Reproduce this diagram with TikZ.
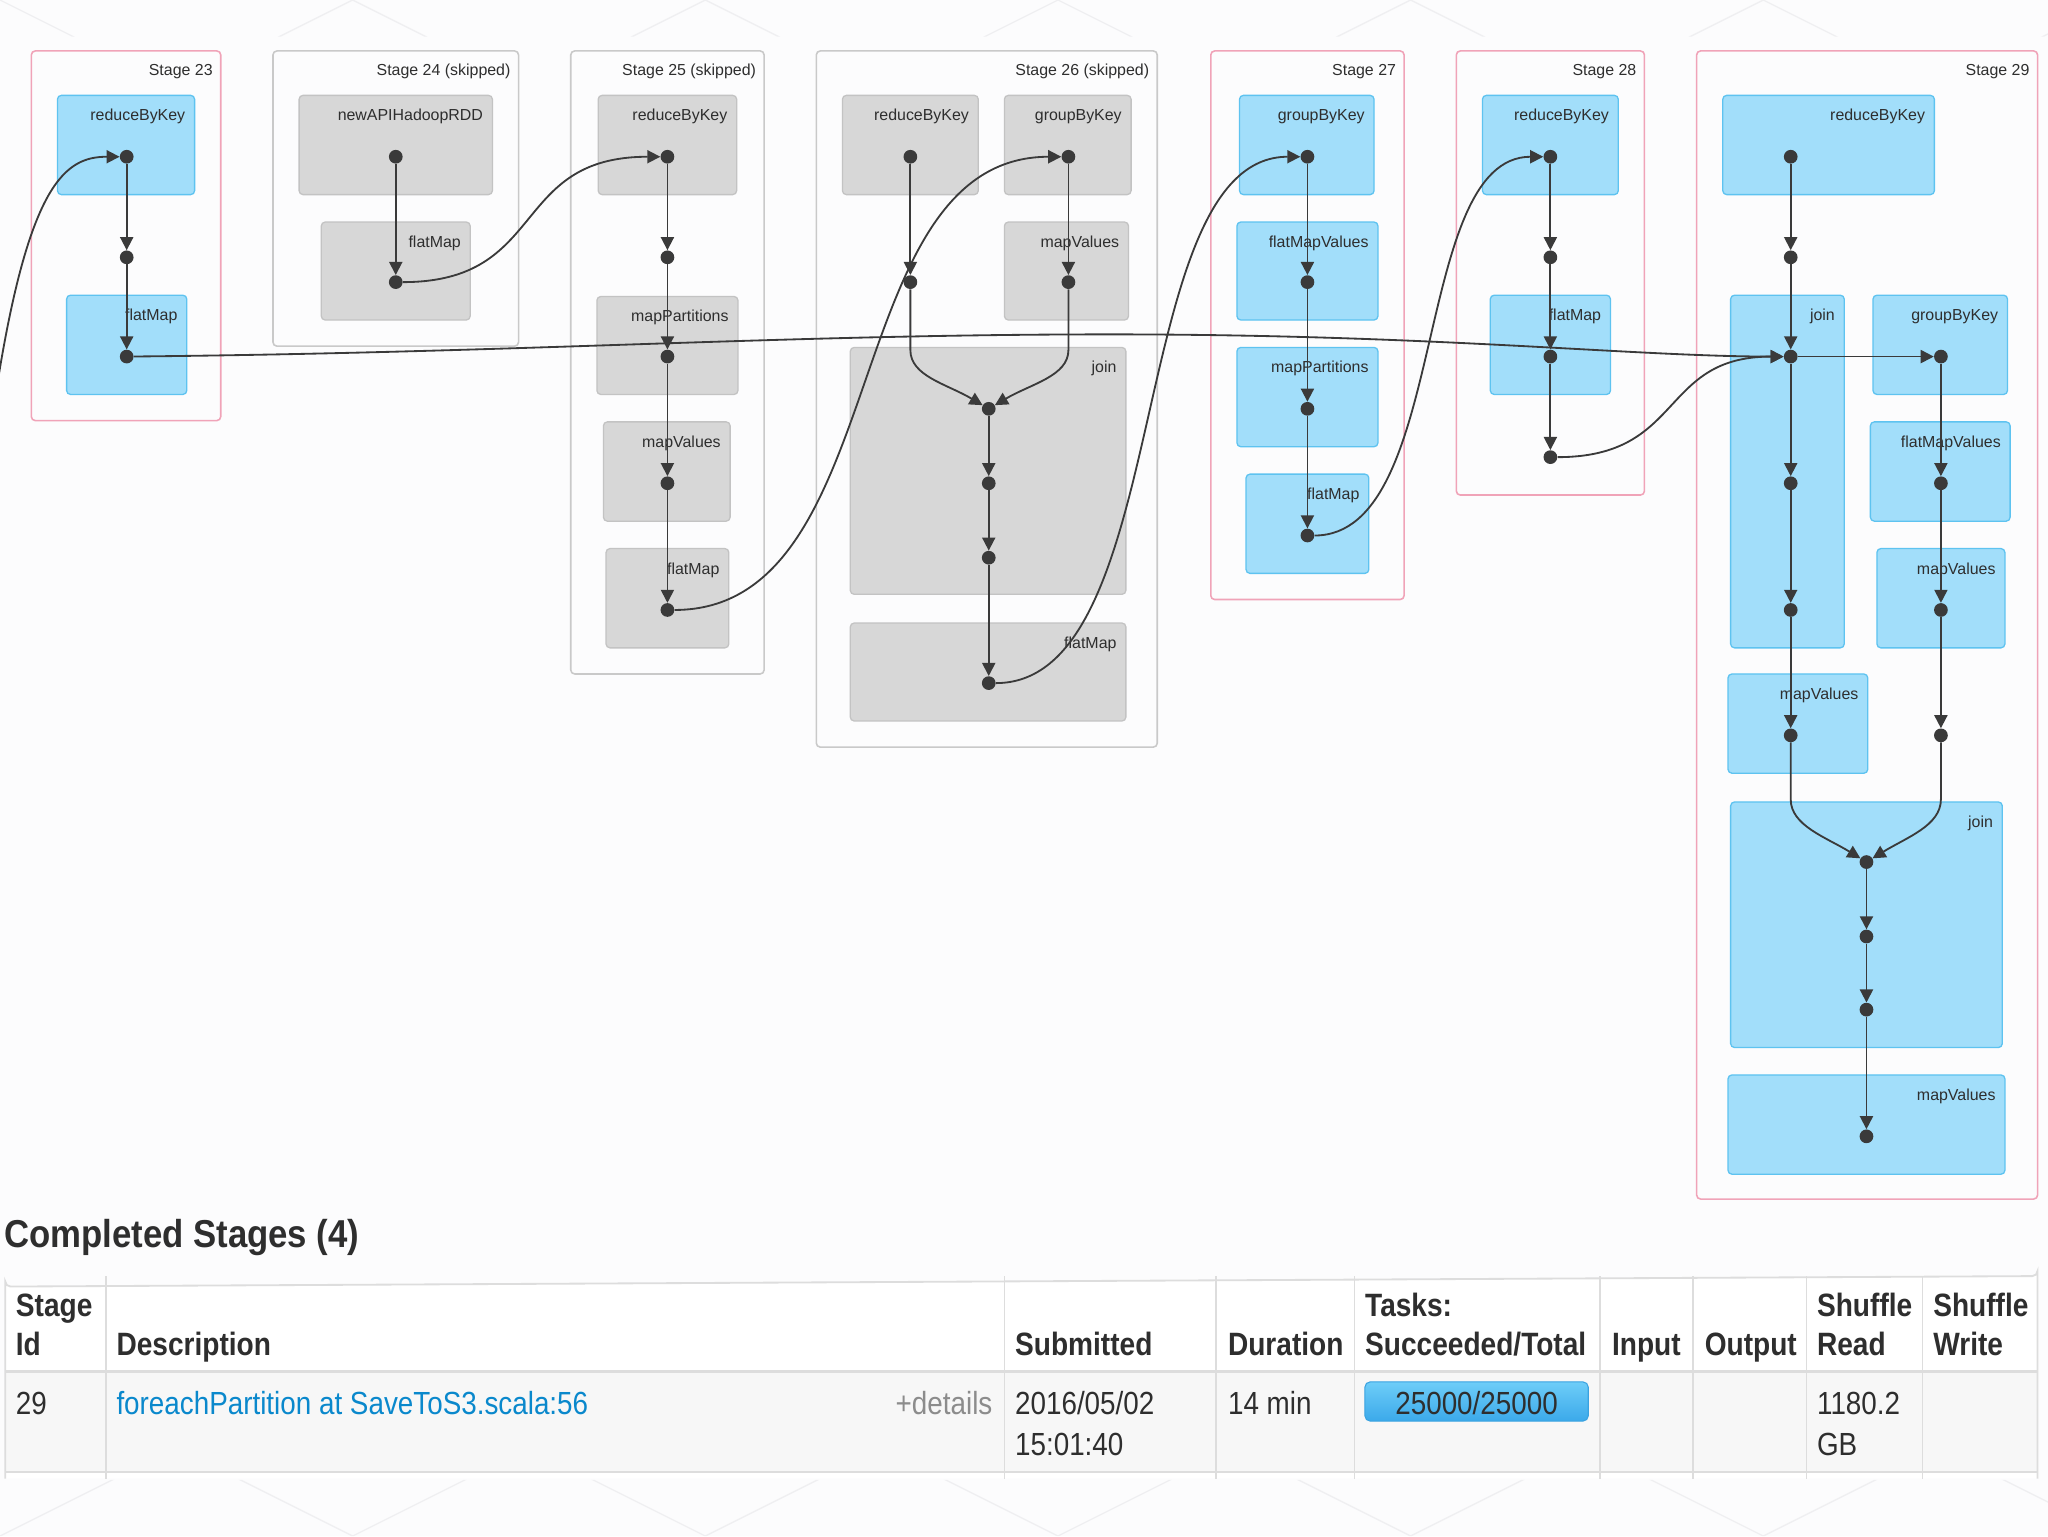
\documentclass[tikz,border=0pt]{standalone}
\usepackage{fontspec}
\setmainfont{Liberation Sans}
\usetikzlibrary{arrows.meta}
\definecolor{bgc}{HTML}{FCFCFD}
\definecolor{patc}{HTML}{EFEFF1}
\definecolor{stpink}{HTML}{F0A3B8}
\definecolor{stgrey}{HTML}{C9C9C9}
\definecolor{opbf}{HTML}{A2DEFA}
\definecolor{opbd}{HTML}{5EC3F0}
\definecolor{opgf}{HTML}{D7D7D7}
\definecolor{opgd}{HTML}{C3C3C3}
\definecolor{dotc}{HTML}{3A3A3A}
\definecolor{txt}{HTML}{2E2E2E}
\definecolor{tline}{HTML}{DDDDDD}
\definecolor{rowbg}{HTML}{F7F7F7}
\definecolor{linkc}{HTML}{0A88CC}
\definecolor{detc}{HTML}{8C8C8C}
\definecolor{bartop}{HTML}{6ECDF8}
\definecolor{barbot}{HTML}{3BA9EA}
\definecolor{bard}{HTML}{3AA2E0}
\newcommand{\tstr}[1]{\scalebox{1}[1.15]{#1}}
\newcommand{\stg}[7]{%
  \node[#1, minimum width={(#5)-(#3)}, minimum height={(#6)-(#4)}] (#2) at ({((#3)+(#5))/2},{((#4)+(#6))/2}) {};
  \node[lbl] (#2l) at ({(#5)-6},{(#4)+18.5}) {#7};}
\newcommand{\opbox}[7]{%
  \node[#1, minimum width={(#5)-(#3)}, minimum height={(#6)-(#4)}] (#2) at ({((#3)+(#5))/2},{((#4)+(#6))/2}) {};
  \node[lbl] (#2l) at ({(#5)-7},{(#4)+19.5}) {#7};}
\begin{document}
\begin{tikzpicture}[x=1pt,y=-1pt,
  stagebox/.style={draw, rounded corners=3pt, line width=1.2pt, inner sep=0pt},
  stagered/.style={stagebox, draw=stpink},
  stagegrey/.style={stagebox, draw=stgrey},
  opblue/.style={draw=opbd, fill=opbf, rounded corners=3pt, line width=1pt, inner sep=0pt},
  opgrey/.style={draw=opgd, fill=opgf, rounded corners=3pt, line width=1pt, inner sep=0pt},
  lbl/.style={font=\fontsize{12.2}{14}\selectfont, text=txt, inner sep=0pt, anchor=base east},
  dotn/.style={circle, fill=dotc, inner sep=0pt, minimum size=10.5pt},
  edge/.style={draw=dotc, line width=1.4pt, -{Triangle[length=10pt,width=10pt]}},
  th/.style={anchor=base west, inner sep=0pt, font=\bfseries\fontsize{21.5}{26}\selectfont, text=txt},
  td/.style={anchor=base west, inner sep=0pt, font=\fontsize{21.3}{26}\selectfont, text=txt}]
\useasboundingbox (0,0) rectangle (1568,1176);
\fill[bgc] (0,0) rectangle (1568,1176);
% faint background pattern
\begin{scope}
\clip (0,1133) rectangle (1568,1176) (0,0) rectangle (1568,28);
\foreach \k in {-6,...,10}{
  \draw[patc, line width=1pt] ({\k*270},0) -- ++(1400,700);
  \draw[patc, line width=1pt] ({\k*270},1176) -- ++(1400,-700);
  \draw[patc, line width=1pt] ({\k*270},0) -- ++(-1400,700);
  \draw[patc, line width=1pt] ({\k*270},1176) -- ++(-1400,-700);
}
\end{scope}

% ---- Stage 23
\stg{stagered}{s23}{24}{39}{169}{322}{Stage 23}
\opbox{opblue}{s23a}{44}{73}{149}{149}{reduceByKey}
\opbox{opblue}{s23b}{51}{226}{143}{302}{flatMap}
% ---- Stage 24
\stg{stagegrey}{s24}{209}{39}{397}{265}{Stage 24 (skipped)}
\opbox{opgrey}{s24a}{229}{73}{377}{149}{newAPIHadoopRDD}
\opbox{opgrey}{s24b}{246}{170}{360}{245}{flatMap}
% ---- Stage 25
\stg{stagegrey}{s25}{437}{39}{585}{516}{Stage 25 (skipped)}
\opbox{opgrey}{s25a}{458}{73}{564}{149}{reduceByKey}
\opbox{opgrey}{s25b}{457}{227}{565}{302}{mapPartitions}
\opbox{opgrey}{s25c}{462}{323}{559}{399}{mapValues}
\opbox{opgrey}{s25d}{464}{420}{558}{496}{flatMap}
% ---- Stage 26
\stg{stagegrey}{s26}{625}{39}{886}{572}{Stage 26 (skipped)}
\opbox{opgrey}{s26a}{645}{73}{749}{149}{reduceByKey}
\opbox{opgrey}{s26b}{769}{73}{866}{149}{groupByKey}
\opbox{opgrey}{s26c}{769}{170}{864}{245}{mapValues}
\opbox{opgrey}{s26d}{651}{266}{862}{455}{join}
\opbox{opgrey}{s26e}{651}{477}{862}{552}{flatMap}
% ---- Stage 27
\stg{stagered}{s27}{927}{39}{1075}{459}{Stage 27}
\opbox{opblue}{s27a}{949}{73}{1052}{149}{groupByKey}
\opbox{opblue}{s27b}{947}{170}{1055}{245}{flatMapValues}
\opbox{opblue}{s27c}{947}{266}{1055}{342}{mapPartitions}
\opbox{opblue}{s27d}{954}{363}{1048}{439}{flatMap}
% ---- Stage 28
\stg{stagered}{s28}{1115}{39}{1259}{379}{Stage 28}
\opbox{opblue}{s28a}{1135}{73}{1239}{149}{reduceByKey}
\opbox{opblue}{s28b}{1141}{226}{1233}{302}{flatMap}
% ---- Stage 29
\stg{stagered}{s29}{1299}{39}{1560}{918}{Stage 29}
\opbox{opblue}{s29a}{1319}{73}{1481}{149}{reduceByKey}
\opbox{opblue}{s29b}{1325}{226}{1412}{496}{join}
\opbox{opblue}{s29c}{1434}{226}{1537}{302}{groupByKey}
\opbox{opblue}{s29d}{1432}{323}{1539}{399}{flatMapValues}
\opbox{opblue}{s29e}{1437}{420}{1535}{496}{mapValues}
\opbox{opblue}{s29f}{1323}{516}{1430}{592}{mapValues}
\opbox{opblue}{s29g}{1325}{614}{1533}{802}{join}
\opbox{opblue}{s29h}{1323}{823}{1535}{899}{mapValues}

% ---- dots
\node[dotn] (a1) at (97,120) {};
\node[dotn] (a2) at (97,197) {};
\node[dotn] (a3) at (97,273) {};
\node[dotn] (b1) at (303,120) {};
\node[dotn] (b2) at (303,216) {};
\node[dotn] (c1) at (511,120) {};
\node[dotn] (c2) at (511,197) {};
\node[dotn] (c3) at (511,273) {};
\node[dotn] (c4) at (511,370) {};
\node[dotn] (c5) at (511,467) {};
\node[dotn] (e1) at (697,120) {};
\node[dotn] (e2) at (818,120) {};
\node[dotn] (e3) at (697,216) {};
\node[dotn] (e4) at (818,216) {};
\node[dotn] (e5) at (757,313) {};
\node[dotn] (e6) at (757,370) {};
\node[dotn] (e7) at (757,427) {};
\node[dotn] (e8) at (757,523) {};
\node[dotn] (f1) at (1001,120) {};
\node[dotn] (f2) at (1001,216) {};
\node[dotn] (f3) at (1001,313) {};
\node[dotn] (f4) at (1001,410) {};
\node[dotn] (g1) at (1187,120) {};
\node[dotn] (g2) at (1187,197) {};
\node[dotn] (g3) at (1187,273) {};
\node[dotn] (g4) at (1187,350) {};
\node[dotn] (h1) at (1371,120) {};
\node[dotn] (h2) at (1371,197) {};
\node[dotn] (h3) at (1371,273) {};
\node[dotn] (h4) at (1371,370) {};
\node[dotn] (h5) at (1371,467) {};
\node[dotn] (h6) at (1371,563) {};
\node[dotn] (k1) at (1486,273) {};
\node[dotn] (k2) at (1486,370) {};
\node[dotn] (k3) at (1486,467) {};
\node[dotn] (k4) at (1486,563) {};
\node[dotn] (m1) at (1429,660) {};
\node[dotn] (m2) at (1429,717) {};
\node[dotn] (m3) at (1429,773) {};
\node[dotn] (m4) at (1429,870) {};
\coordinate (in23) at (-3,300);

% ---- edges
\draw[edge] (in23) .. controls (22,140) and (50,120) .. (a1);
\draw[edge] (a1) -- (a2);
\draw[edge] (a2) -- (a3);
\draw[edge] (a3) .. controls (400,270) and (600,256) .. (850,256) .. controls (1100,256) and (1250,273) .. (h3);
\draw[edge] (b1) -- (b2);
\draw[edge] (b2) .. controls (420,216) and (390,120) .. (c1);
\draw[edge] (c1) -- (c2);
\draw[edge] (c2) -- (c3);
\draw[edge] (c3) -- (c4);
\draw[edge] (c4) -- (c5);
\draw[edge] (c5) .. controls (685,467) and (640,120) .. (e2);
\draw[edge] (e1) -- (e3);
\draw[edge] (e2) -- (e4);
\draw[edge] (e3) -- (697,268) .. controls (697,288) and (725,294) .. (e5);
\draw[edge] (e4) -- (818,268) .. controls (818,288) and (789,294) .. (e5);
\draw[edge] (e5) -- (e6);
\draw[edge] (e6) -- (e7);
\draw[edge] (e7) -- (e8);
\draw[edge] (e8) .. controls (900,523) and (860,120) .. (f1);
\draw[edge] (f1) -- (f2);
\draw[edge] (f2) -- (f3);
\draw[edge] (f3) -- (f4);
\draw[edge] (f4) .. controls (1110,410) and (1080,120) .. (g1);
\draw[edge] (g1) -- (g2);
\draw[edge] (g2) -- (g3);
\draw[edge] (g3) -- (g4);
\draw[edge] (g4) .. controls (1290,350) and (1270,273) .. (h3);
\draw[edge] (h1) -- (h2);
\draw[edge] (h2) -- (h3);
\draw[edge] (h3) -- (h4);
\draw[edge] (h4) -- (h5);
\draw[edge] (h5) -- (h6);
\draw[edge] (h3) -- (k1);
\draw[edge] (k1) -- (k2);
\draw[edge] (k2) -- (k3);
\draw[edge] (k3) -- (k4);
\draw[edge] (h6) -- (1371,612) .. controls (1371,632) and (1398,641) .. (m1);
\draw[edge] (k4) -- (1486,612) .. controls (1486,632) and (1460,641) .. (m1);
\draw[edge] (m1) -- (m2);
\draw[edge] (m2) -- (m3);
\draw[edge] (m3) -- (m4);

% ---- table
\node[anchor=base west, inner sep=0pt, font=\bfseries\fontsize{26.6}{30}\selectfont, text=txt] (title) at (3,955) {\scalebox{1}[1.12]{Completed Stages (4)}};
\fill[white] (4,1132) -- (4,981) arc[start angle=180,end angle=90,radius=4] -- (1556,977) arc[start angle=90,end angle=0,radius=4] -- (1560,1132) -- cycle;
\fill[rowbg] (4,1050) rectangle (1560,1127);
\draw[tline, line width=1.4pt] (4,1132) -- (4,981) arc[start angle=180,end angle=90,radius=4] -- (1556,977) arc[start angle=90,end angle=0,radius=4] -- (1560,1132);
\draw[tline, line width=2pt] (4,1050) -- (1560,1050);
\draw[tline, line width=1.4pt] (4,1127) -- (1560,1127);
\foreach \cx in {81,769,931,1037,1225,1296,1383,1472}{
  \draw[tline, line width=1.2pt] (\cx,977) -- (\cx,1132);
}
\node[th] (hid1) at (12,1008) {\tstr{Stage}};
\node[th] (hid2) at (12,1038) {\tstr{Id}};
\node[th] (hdesc) at (89,1038) {\tstr{Description}};
\node[th] (hsub) at (777,1038) {\tstr{Submitted}};
\node[th] (hdur) at (940,1038) {\tstr{Duration}};
\node[th] (htask1) at (1045,1008) {\tstr{Tasks:}};
\node[th] (htask2) at (1045,1038) {\tstr{Succeeded/Total}};
\node[th] (hin) at (1234,1038) {\tstr{Input}};
\node[th] (hout) at (1305,1038) {\tstr{Output}};
\node[th] (hsr1) at (1391,1008) {\tstr{Shuffle}};
\node[th] (hsr2) at (1391,1038) {\tstr{Read}};
\node[th] (hsw1) at (1480,1008) {\tstr{Shuffle}};
\node[th] (hsw2) at (1480,1038) {\tstr{Write}};

\node[td] (vid) at (12,1083) {\tstr{29}};
\node[td, text=linkc] (vdesc) at (89,1083) {\tstr{foreachPartition at SaveToS3.scala:56}};
\node[td, text=detc, anchor=base east] (vdet) at (760,1083) {\tstr{+details}};
\node[td] (vsub1) at (777,1083) {\tstr{2016/05/02}};
\node[td] (vsub2) at (777,1114) {\tstr{15:01:40}};
\node[td] (vdur) at (940,1083) {\tstr{14 min}};
\node[draw=bard, line width=0.8pt, rounded corners=4pt, top color=bartop, bottom color=barbot, minimum width=171pt, minimum height=30pt, inner sep=0pt] (bar) at (1130.5,1073) {};
\node[td, anchor=base] (vbar) at (1130.5,1083) {\tstr{25000/25000}};
\node[td] (vsr1) at (1391,1083) {\tstr{1180.2}};
\node[td] (vsr2) at (1391,1114) {\tstr{GB}};
\end{tikzpicture}
\end{document}
